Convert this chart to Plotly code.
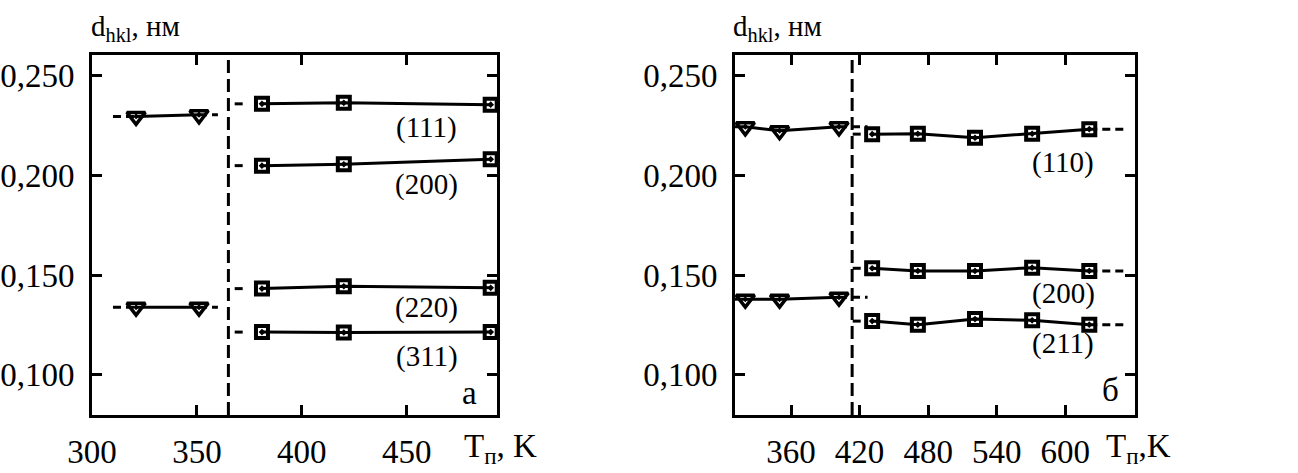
import plotly.graph_objects as go

# ---------------- data ----------------
# panel a
T_tri_a = [321, 351]
d_tri_a_up = [0.2297, 0.2305]
d_tri_a_low = [0.1340, 0.1340]
T_sq_a = [381, 420, 490]
d_111 = [0.2360, 0.2365, 0.2356]
d_200a = [0.2050, 0.2057, 0.2082]
d_220 = [0.1433, 0.1445, 0.1437]
d_311 = [0.1215, 0.1213, 0.1215]
ext_tri_a_left = [310, 321]
ext_tri_a_right = [351, 360]
ext_sq_a_left = [368, 374]
T_split_a = 365

# panel b
T_tri_b = [320, 350, 402]
d_tri_b_up = [0.2245, 0.2225, 0.2245]
d_tri_b_low = [0.1380, 0.1380, 0.1390]
T_sq_b = [431, 471, 521, 571, 621]
d_110 = [0.2208, 0.2210, 0.2190, 0.2210, 0.2233]
d_200b = [0.1535, 0.1522, 0.1522, 0.1538, 0.1522]
d_211 = [0.1270, 0.1252, 0.1280, 0.1274, 0.1252]
ext_tri_b_left = [311, 320]
ext_tri_b_right = [402, 427]
ext_sq_b_left = [414, 421]
ext_sq_b_right = [621, 655]
T_split_b = 413.5

x_ticks_a = [300, 350, 400, 450]
x_ticks_b = [360, 420, 480, 540, 600]
y_ticks = [0.100, 0.150, 0.200, 0.250]

labels_a = ["(111)", "(200)", "(220)", "(311)"]
labels_a_y = [0.2239, 0.1953, 0.1336, 0.1090]
labels_b = ["(110)", "(200)", "(211)"]
labels_b_y = [0.2064, 0.1411, 0.1160]

# ---------------- figure ----------------
FONT = "Liberation Serif"
fig = go.Figure()

sq = dict(symbol="square-open-dot", size=12, color="black", line=dict(width=4, color="black"))
tri = dict(symbol="triangle-down-open-dot", size=16, color="black", line=dict(width=3.5, color="black"))
solid = dict(color="black", width=3)
dash = dict(color="black", width=3, dash="8px,5px")
vdash = dict(color="black", width=3, dash="13px,6px")


def add(x, y, xa, ya, marker=None, line=solid):
    fig.add_trace(go.Scatter(x=x, y=y, xaxis=xa, yaxis=ya,
                             mode="lines+markers" if marker else "lines",
                             marker=marker, line=line, showlegend=False,
                             hoverinfo="skip", cliponaxis=False))


# panel a
add([T_split_a, T_split_a], [0.0799, 0.2605], "x", "y", line=vdash)
for ys in (d_tri_a_up, d_tri_a_low):
    add(ext_tri_a_left, [ys[0]] * 2, "x", "y", line=dash)
    add(ext_tri_a_right, [ys[-1]] * 2, "x", "y", line=dash)
    add(T_tri_a, ys, "x", "y", marker=tri)
for ys in (d_111, d_200a, d_220, d_311):
    add(ext_sq_a_left, [ys[0]] * 2, "x", "y", line=dash)
    add(T_sq_a, ys, "x", "y", marker=sq)

# panel b
add([T_split_b, T_split_b], [0.0799, 0.2605], "x2", "y2", line=vdash)
for ys in (d_tri_b_up, d_tri_b_low):
    add(ext_tri_b_left, [ys[0]] * 2, "x2", "y2")
    add(ext_tri_b_right, [ys[-1]] * 2, "x2", "y2", line=dash)
    add(T_tri_b, ys, "x2", "y2", marker=tri)
for ys in (d_110, d_200b, d_211):
    add(ext_sq_b_left, [ys[0]] * 2, "x2", "y2", line=dash)
    add(ext_sq_b_right, [ys[-1]] * 2, "x2", "y2", line=dash)
    add(T_sq_b, ys, "x2", "y2", marker=sq)

W, H = 1298, 473
ydom = [1 - 415 / H, 1 - 55 / H]
axis_common = dict(showline=True, linewidth=3, linecolor="black", mirror="ticks",
                   ticks="inside", ticklen=10, tickwidth=3, tickcolor="black",
                   showgrid=False, zeroline=False, automargin=False,
                   tickfont=dict(family=FONT, size=33, color="black"))

fig.update_layout(
    width=W, height=H, margin=dict(l=0, r=0, t=0, b=0, autoexpand=False),
    paper_bgcolor="white", plot_bgcolor="white",
    font=dict(family=FONT, color="black"),
    separators=", ",
    xaxis=dict(axis_common, domain=[92 / W, 497 / W], range=[300, 493],
               tickvals=x_ticks_a, anchor="y", ticklabelstandoff=5),
    yaxis=dict(axis_common, domain=ydom, range=[0.0799, 0.2605],
               tickvals=y_ticks, tickformat=".3f", anchor="x", ticklabelstandoff=8),
    xaxis2=dict(axis_common, domain=[735 / W, 1135 / W], range=[311, 661],
                tickvals=x_ticks_b, anchor="y2", ticklabelstandoff=5),
    yaxis2=dict(axis_common, domain=ydom, range=[0.0799, 0.2605],
                tickvals=y_ticks, tickformat=".3f", anchor="x2", ticklabelstandoff=8),
)

ann_font = dict(family=FONT, size=29, color="black")
for t, y in zip(labels_a, labels_a_y):
    fig.add_annotation(x=459.5, y=y, xref="x", yref="y", text=t, showarrow=False, font=ann_font)
for t, y in zip(labels_b, labels_b_y):
    fig.add_annotation(x=598, y=y, xref="x2", yref="y2", text=t, showarrow=False, font=ann_font)
fig.add_annotation(x=480, y=0.0910, xref="x", yref="y", text="а", showarrow=False,
                   font=dict(family=FONT, size=33, color="black"))
fig.add_annotation(x=639.5, y=0.0925, xref="x2", yref="y2", text="б", showarrow=False,
                   font=dict(family=FONT, size=33, color="black"))

for x0 in (89, 731):
    fig.add_annotation(x=x0 / W, y=1 - 28 / H, xref="paper", yref="paper", xanchor="left", yanchor="middle",
                       text="d<sub>hkl</sub>, нм", showarrow=False, font=dict(family=FONT, size=29, color="black"))
fig.add_annotation(x=462 / W, y=1 - 448 / H, xref="paper", yref="paper", xanchor="left", yanchor="middle",
                   text="T<sub>п</sub>, K", showarrow=False, font=dict(family=FONT, size=33, color="black"))
fig.add_annotation(x=1104 / W, y=1 - 448 / H, xref="paper", yref="paper", xanchor="left", yanchor="middle",
                   text="T<sub>п</sub>,K", showarrow=False, font=dict(family=FONT, size=33, color="black"))

fig.write_html("out.html")
